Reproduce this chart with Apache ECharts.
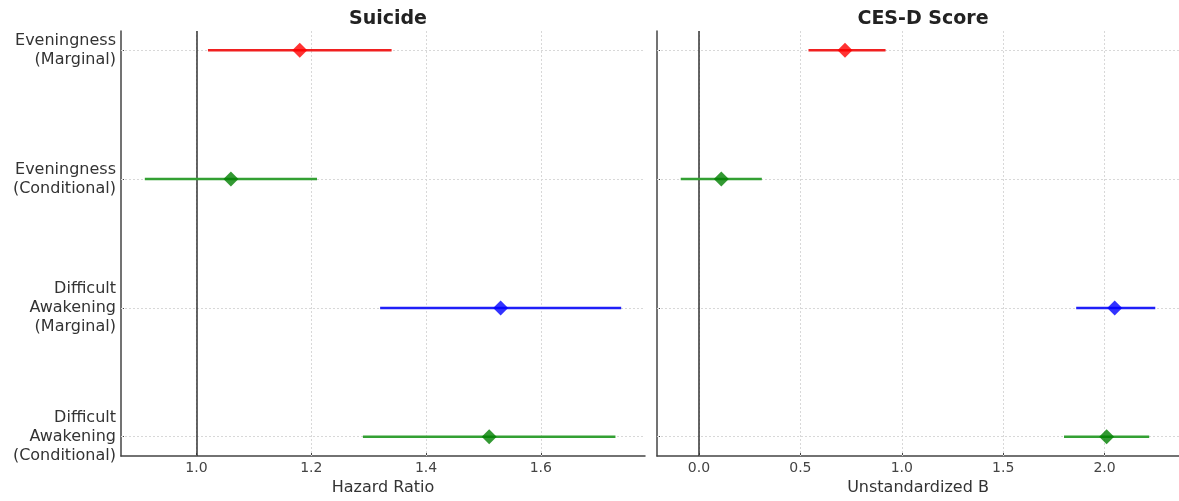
<!DOCTYPE html>
<html>
<head>
<meta charset="utf-8">
<script src="https://cdn.jsdelivr.net/npm/echarts@6/dist/echarts.min.js"></script>
<style>
html,body{margin:0;padding:0;background:#fff;}
#chart{width:1179px;height:501px;}
</style>
</head>
<body>
<div id="chart"></div>
<script>
// ---- data ----
const categories = ['Eveningness\n(Marginal)', 'Eveningness\n(Conditional)', 'Difficult\nAwakening\n(Marginal)', 'Difficult\nAwakening\n(Conditional)'];
const suicideHR   = [1.18, 1.06, 1.53, 1.51];
const suicideLow  = [1.02, 0.91, 1.32, 1.29];
const suicideHigh = [1.34, 1.21, 1.74, 1.73];
const cesdB    = [0.72, 0.11, 2.05, 2.01];
const cesdLow  = [0.54, -0.09, 1.86, 1.80];
const cesdHigh = [0.92, 0.31, 2.25, 2.22];
const suicideTicks = [1.0, 1.2, 1.4, 1.6];
const cesdTicks = [0.0, 0.5, 1.0, 1.5, 2.0];
const suicideRef = 1;
const cesdRef = 0;

// ---- styles ----
const markerColors = ['#ff0000', '#008000', '#0000ff', '#008000'];
const lineColors = ['#f02020', '#33a033', '#2020f8', '#33a033'];
const FONT = 'DejaVu Sans';

function limits(lo, hi) {
  const mn = Math.min(...lo), mx = Math.max(...hi), r = mx - mn;
  return [mn - 0.05 * r, mx + 0.05 * r];
}
const xl0 = limits(suicideLow, suicideHigh);
const xl1 = limits(cesdLow, cesdHigh);
const yPad = 0.05 * (categories.length - 1);
const catIdx = categories.map((c, i) => i);

function xAxis(gi, lim, ticks, name) {
  return {
    type: 'value', gridIndex: gi, min: lim[0], max: lim[1],
    axisLine: {show: true, onZero: false, lineStyle: {color: '#444', width: 1.5}},
    axisTick: {show: true, inside: true, length: 3, customValues: ticks, lineStyle: {color: '#444'}},
    axisLabel: {customValues: ticks, formatter: v => v.toFixed(1), fontFamily: FONT, fontSize: 14, color: '#444', margin: 5},
    splitLine: {show: false},
    name: name, nameLocation: 'middle', nameGap: 24,
    nameTextStyle: {fontFamily: FONT, fontSize: 16, color: '#333'}
  };
}
function yAxis(gi, showLabels) {
  return {
    type: 'value', gridIndex: gi, inverse: true, min: -yPad, max: categories.length - 1 + yPad,
    axisLine: {show: true, onZero: false, lineStyle: {color: '#444', width: 1.5}},
    axisTick: {show: true, inside: true, length: 3, customValues: catIdx, lineStyle: {color: '#444'}},
    axisLabel: {show: showLabels, customValues: catIdx, formatter: v => categories[Math.round(v)],
      fontFamily: FONT, fontSize: 16, lineHeight: 19, color: '#333', margin: 5, align: 'right',
      padding: [5, 0, 0, 0]},
    splitLine: {show: false}
  };
}

function panelSeries(gi, est, lo, hi, ticks, ref) {
  const ciData = est.map((v, i) => [lo[i], hi[i], i]);
  const ptData = est.map((v, i) => ({value: [v, i], itemStyle: {color: markerColors[i]}}));
  const grid = [];
  ticks.forEach(t => grid.push({xAxis: t}));
  catIdx.forEach(i => grid.push({yAxis: i}));
  return [
    {
      type: 'custom', xAxisIndex: gi, yAxisIndex: gi, z: 3, silent: true,
      data: ciData,
      encode: {x: [0, 1], y: 2},
      renderItem: function (params, api) {
        const y = api.value(2);
        const p1 = api.coord([api.value(0), y]);
        const p2 = api.coord([api.value(1), y]);
        return {type: 'line', shape: {x1: p1[0], y1: p1[1], x2: p2[0], y2: p2[1]},
          style: {stroke: lineColors[params.dataIndex], lineWidth: 2.5}};
      },
      markLine: {
        silent: true, symbol: 'none', z: 1, animation: false,
        label: {show: false},
        lineStyle: {color: '#d8d8d8', type: [2, 2], width: 1},
        data: grid
      }
    },
    {
      type: 'scatter', xAxisIndex: gi, yAxisIndex: gi, z: 4, silent: true,
      symbol: 'diamond', symbolSize: 15,
      data: ptData,
      markLine: {
        silent: true, symbol: 'none', z: 2, animation: false,
        label: {show: false},
        lineStyle: {color: '#333', type: 'solid', width: 1.5},
        data: [{xAxis: ref}]
      }
    }
  ];
}

const chart = echarts.init(document.getElementById('chart'));
chart.setOption({
  animation: false,
  backgroundColor: '#fff',
  title: [
    {text: 'Suicide', left: 383, top: 5, textAlign: 'center',
      textStyle: {fontFamily: FONT, fontSize: 19, fontWeight: 'bold', color: '#222'}},
    {text: 'CES-D Score', left: 918, top: 5, textAlign: 'center',
      textStyle: {fontFamily: FONT, fontSize: 19, fontWeight: 'bold', color: '#222'}}
  ],
  grid: [
    {left: 121, top: 31, width: 524, height: 429},
    {left: 657, top: 31, width: 523, height: 429}
  ],
  xAxis: [xAxis(0, xl0, suicideTicks, 'Hazard Ratio'), xAxis(1, xl1, cesdTicks, 'Unstandardized B')],
  yAxis: [yAxis(0, true), yAxis(1, false)],
  series: [].concat(
    panelSeries(0, suicideHR, suicideLow, suicideHigh, suicideTicks, suicideRef),
    panelSeries(1, cesdB, cesdLow, cesdHigh, cesdTicks, cesdRef)
  )
});
</script>
</body>
</html>
